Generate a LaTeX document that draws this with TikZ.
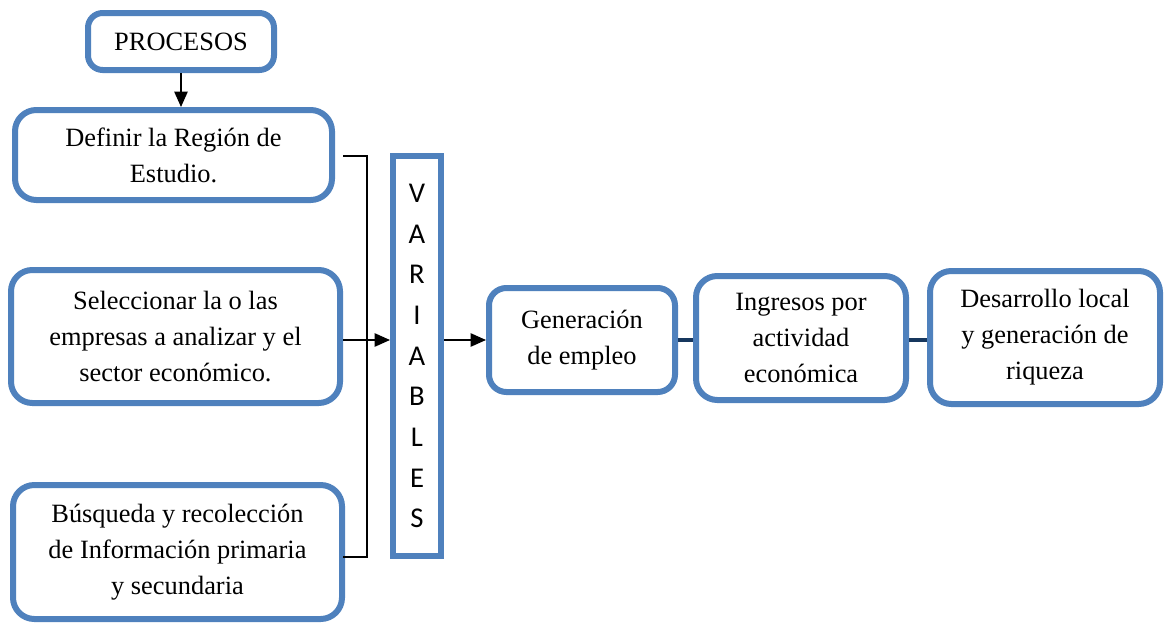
\documentclass[tikz,border=0pt]{standalone}
\usepackage{fontspec}
\setmainfont{Liberation Serif}
\newfontfamily\varfont{Carlito}
\usetikzlibrary{arrows.meta}
\definecolor{boxblue}{RGB}{79,129,189}
\definecolor{linknavy}{RGB}{23,55,94}
\tikzset{
  stepbox/.style={draw=boxblue, line width=4.5pt, fill=white, rounded corners=16pt, align=center, inner sep=2pt,
    font=\fontsize{19.8}{27}\selectfont},
  arr/.style={-{Triangle[length=11.5pt,width=10pt]}, line width=1.1pt},
  link/.style={draw=linknavy, line width=3pt}
}

\begin{document}
\begin{tikzpicture}[x=0.75pt,y=0.75pt,yscale=-1,xscale=1]
\useasboundingbox (0,0) rectangle (1165,625);
\node[stepbox, rounded corners=11pt, minimum width=139.5pt, minimum height=42.75pt] (proc) at (181,41.5) {PROCESOS};
\node[stepbox, minimum width=237.75pt, minimum height=67.5pt] (def) at (173.5,155) {Definir la Región de\\Estudio.};
\node[stepbox, minimum width=246.75pt, minimum height=99.75pt] (sel) at (175.5,336.5) {Seleccionar la o las\\empresas a analizar y el\\sector económico.};
\node[stepbox, minimum width=246.75pt, minimum height=100.5pt] (bus) at (177.5,552) {Búsqueda y recolección\\de Información primaria\\y secundaria};
\node[stepbox, rounded corners=0pt, minimum width=36pt, minimum height=300pt, font=\varfont\fontsize{21.5}{30.5}\selectfont] (var) at (417,356) {V\\A\\R\\I\\A\\B\\L\\E\\S};
\node[stepbox, rounded corners=13pt, minimum width=139.5pt, minimum height=78pt] (gen) at (582,340) {Generación\\de empleo};
\node[stepbox, minimum width=157.5pt, minimum height=93pt] (ing) at (801,338) {Ingresos por\\actividad\\económica};
\node[stepbox, minimum width=172.5pt, minimum height=99.75pt] (des) at (1045,337.5) {Desarrollo local\\y generación de\\riqueza};

\coordinate (brt) at (343,156);
\coordinate (brm) at (367,341);
\coordinate (brb) at (343,557);
\draw[line width=1.1pt] (brt) -| (brm) |- (brb);

\draw[arr] (proc.south) -- (proc.south |- def.north);
\draw[arr] (sel.east |- gen.west) -- (var.west |- gen.west);
\draw[arr] (var.east |- gen.west) -- (gen.west);
\draw[link] (gen.east) -- (gen.east -| ing.west);
\draw[link] (ing.east |- gen.east) -- (des.west |- gen.east);
\end{tikzpicture}
\end{document}
